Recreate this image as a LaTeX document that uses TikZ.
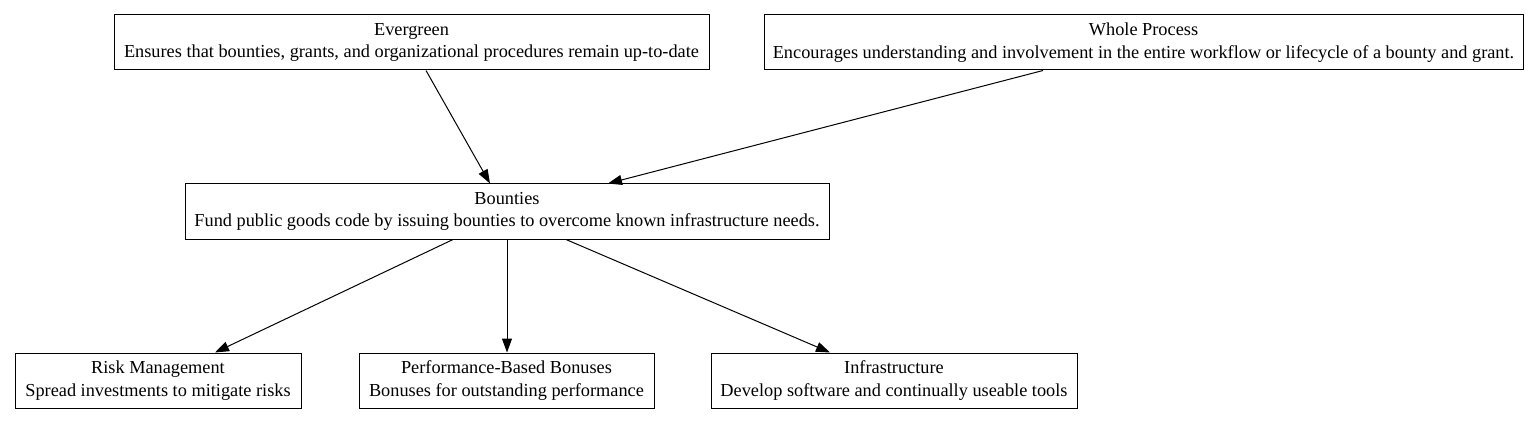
\documentclass[tikz,border=0pt]{standalone}
\usepackage{fontspec}
\setmainfont{Liberation Serif}
\usetikzlibrary{arrows.meta}
\begin{document}
\begin{tikzpicture}[x=1pt,y=-1pt,
  box/.style={draw,line width=1pt,inner sep=0pt,align=center,font=\fontsize{18.3}{22.5}\selectfont},
  conn/.style={line width=1pt,-{Triangle[length=14pt,width=10pt]}}]
\useasboundingbox[fill=white] (0,0) rectangle (1540,425);
\node[box,minimum width=595pt,minimum height=55pt] (ever) at (411.5,42.5) {Evergreen\\Ensures that bounties, grants, and organizational procedures remain up-to-date};
\node[box,minimum width=759pt,minimum height=55pt] (whole) at (1143.5,42.5) {Whole Process\\Encourages understanding and involvement in the entire workflow or lifecycle of a bounty and grant.};
\node[box,minimum width=644pt,minimum height=55pt] (bount) at (507,211.5) {Bounties\\Fund public goods code by issuing bounties to overcome known infrastructure needs.};
\node[box,minimum width=286pt,minimum height=55pt] (risk) at (158,380.5) {Risk Management\\Spread investments to mitigate risks};
\node[box,minimum width=295pt,minimum height=55pt] (perf) at (506.5,380.5) {Performance-Based Bonuses\\Bonuses for outstanding performance};
\node[box,minimum width=366pt,minimum height=55pt] (infra) at (894,380.5) {Infrastructure\\Develop software and continually useable tools};
\draw[conn] ([xshift=14.5pt]ever.south) -- ([xshift=-17pt]bount.north);
\draw[conn] ([xshift=-100.5pt]whole.south) -- ([xshift=101pt]bount.north);
\draw[conn] ([xshift=-54pt]bount.south) -- ([xshift=57pt]risk.north);
\draw[conn] (bount.south) -- ([xshift=0.5pt]perf.north);
\draw[conn] ([xshift=59pt]bount.south) -- ([xshift=-64pt]infra.north);
\end{tikzpicture}
\end{document}
